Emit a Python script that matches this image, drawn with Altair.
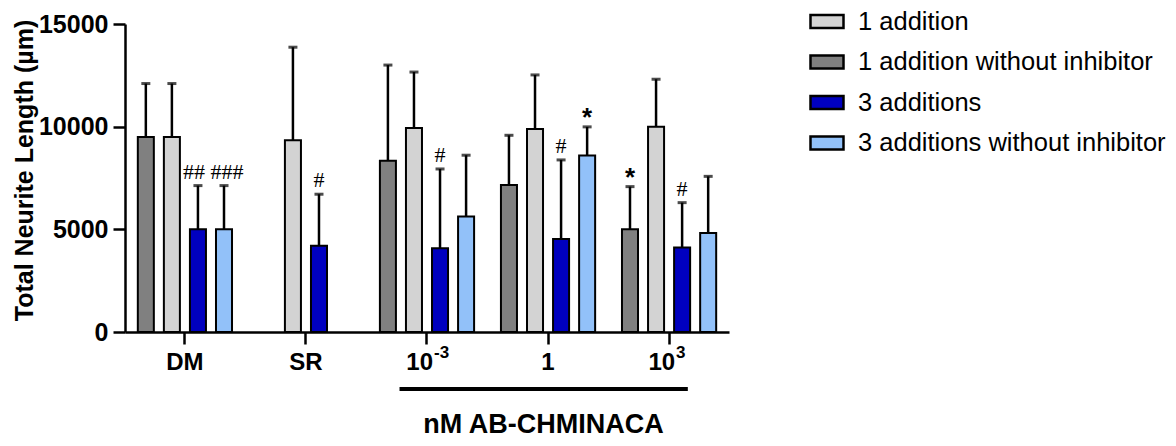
import altair as alt
import pandas as pd

groups = ["DM", "SR", "10^-3", "1", "10^3"]
legend_order = ["1 addition", "1 addition without inhibitor", "3 additions", "3 additions without inhibitor"]
bar_order = ["1 addition without inhibitor", "1 addition", "3 additions", "3 additions without inhibitor"]
fill_colors = ["#d3d3d3", "#808080", "#0000bf", "#92c1f9"]

# means and SD (None = no bar)
mean_1add = [9500, 9340, 9940, 9890, 9990]
sd_1add = [2600, 4530, 2720, 2630, 2320]
note_1add = ["", "", "", "", ""]

mean_1add_noinh = [9500, None, 8340, 7160, 5000]
sd_1add_noinh = [2600, None, 4660, 2420, 2080]
note_1add_noinh = ["", "", "", "", "*"]

mean_3add = [5000, 4200, 4080, 4530, 4120]
sd_3add = [2130, 2510, 3860, 3850, 2180]
note_3add = ["##", "#", "#", "#", "#"]

mean_3add_noinh = [5000, None, 5620, 8590, 4820]
sd_3add_noinh = [2130, None, 2990, 1400, 2760]
note_3add_noinh = ["###", "", "", "*", ""]

label_base = ["DM", "SR", "10", "1", "10"]
label_exp = ["", "", "-3", "", "3"]

rows = []
for s, ms, sds, notes in [
    ("1 addition", mean_1add, sd_1add, note_1add),
    ("1 addition without inhibitor", mean_1add_noinh, sd_1add_noinh, note_1add_noinh),
    ("3 additions", mean_3add, sd_3add, note_3add),
    ("3 additions without inhibitor", mean_3add_noinh, sd_3add_noinh, note_3add_noinh),
]:
    for g, m, sd, n in zip(groups, ms, sds, notes):
        if m is None:
            continue
        rows.append({"group": g, "series": s, "mean": m, "top": m + sd, "note": n})
df = pd.DataFrame(rows)

lab = pd.DataFrame({"group": groups, "base": label_base, "exp": label_exp})
under = pd.DataFrame({"start": ["10^-3"], "end": ["10^3"]})

FONT = "Liberation Sans"
W, H = 604, 308

xscale = alt.Scale(domain=groups, paddingInner=0.14, paddingOuter=0.065)
xoscale = alt.Scale(domain=bar_order, paddingInner=0.385, paddingOuter=0.19)
yscale = alt.Scale(domain=[0, 15000], nice=False)

x_axis = alt.Axis(
    labels=False, title="nM AB-CHMINACA", titleFont=FONT, titleFontSize=27,
    titleFontWeight="bold", titleX=418, titleY=100, titleBaseline="alphabetic",
    titleAlign="center", titleColor="black",
    domainColor="black", domainWidth=2.5, tickColor="black", tickWidth=2.5,
    tickSize=12, grid=False,
)
y_axis = alt.Axis(
    values=[0, 5000, 10000, 15000], format="d", title="Total Neurite Length (µm)",
    titleFont=FONT, titleFontSize=25, titleFontWeight="bold", titleColor="black",
    titleX=-101, titleY=146, titleAngle=270, titleAlign="center", titleBaseline="middle",
    labelFont=FONT, labelFontSize=25, labelFontWeight="bold", labelColor="black",
    labelPadding=5, domainColor="black", domainWidth=2.5, tickColor="black",
    tickWidth=2.5, tickSize=12, grid=False,
)

base = alt.Chart(df)

bars = base.mark_bar(stroke="black", strokeWidth=2).encode(
    x=alt.X("group:N", scale=xscale, axis=x_axis),
    xOffset=alt.XOffset("series:N", scale=xoscale),
    y=alt.Y("mean:Q", scale=yscale, axis=y_axis),
    fill=alt.Fill(
        "series:N",
        scale=alt.Scale(domain=legend_order, range=fill_colors),
        legend=alt.Legend(
            title=None, orient="none", legendX=684, legendY=-20.5, padding=0,
            symbolType="M-1,-0.4H1V0.4H-1Z", symbolSize=1089,
            symbolStrokeColor="black", symbolStrokeWidth=2.5,
            labelFont=FONT, labelFontSize=25.5, labelColor="black",
            labelOffset=13, rowPadding=8.5, labelLimit=400,
        ),
    ),
)

err = base.mark_rule(color="black", strokeWidth=2.5).encode(
    x=alt.X("group:N", scale=xscale),
    xOffset=alt.XOffset("series:N", scale=xoscale),
    y=alt.Y("mean:Q", scale=yscale),
    y2="top:Q",
)

caps = base.mark_tick(color="black", orient="horizontal", size=9, thickness=3).encode(
    x=alt.X("group:N", scale=xscale),
    xOffset=alt.XOffset("series:N", scale=xoscale),
    y=alt.Y("top:Q", scale=yscale),
)


def hash_layer(cond, dx):
    return base.transform_filter(cond).mark_text(
        font="Liberation Serif", fontSize=22, color="black", baseline="alphabetic", dy=-7, dx=dx
    ).encode(
        x=alt.X("group:N", scale=xscale),
        xOffset=alt.XOffset("series:N", scale=xoscale),
        y=alt.Y("top:Q", scale=yscale),
        text="note:N",
    )


hash1 = hash_layer("datum.note == '#'", 0)
hash2 = hash_layer("datum.note == '##'", -4)
hash3 = hash_layer("datum.note == '###'", 3)

star_txt = base.transform_filter("datum.note == '*'").mark_text(
    font=FONT, fontSize=26, fontWeight="bold", color="black", baseline="alphabetic", dy=-1
).encode(
    x=alt.X("group:N", scale=xscale),
    xOffset=alt.XOffset("series:N", scale=xoscale),
    y=alt.Y("top:Q", scale=yscale),
    text="note:N",
)

lbase = alt.Chart(lab)
plain_lab = lbase.transform_filter("datum.exp == ''").mark_text(
    font=FONT, fontSize=24, fontWeight="bold", color="black", baseline="alphabetic", align="center"
).encode(x=alt.X("group:N", scale=xscale), y=alt.value(346), text="base:N")

ten_lab = lbase.transform_filter("datum.exp != ''").mark_text(
    font=FONT, fontSize=24, fontWeight="bold", color="black", baseline="alphabetic", align="right", dx=6
).encode(x=alt.X("group:N", scale=xscale), y=alt.value(346), text="base:N")

exp_lab = lbase.transform_filter("datum.exp != ''").mark_text(
    font=FONT, fontSize=17, fontWeight="bold", color="black", baseline="alphabetic", align="left", dx=7
).encode(x=alt.X("group:N", scale=xscale), y=alt.value(334), text="exp:N")

underline = alt.Chart(under).mark_rule(color="black", strokeWidth=4).encode(
    x=alt.X("start:N", scale=xscale, bandPosition=0.236),
    x2=alt.X2("end:N", bandPosition=0.68),
    y=alt.value(365),
)

chart = alt.layer(
    bars, err, caps, hash1, hash2, hash3, star_txt, plain_lab, ten_lab, exp_lab, underline
).properties(
    width=W, height=H,
    autosize=alt.AutoSizeParams(type="none"),
    padding={"left": 117, "top": 16, "right": 439, "bottom": 106},
).configure_view(stroke=None)

chart.save("out.html", embed_options={"renderer": "svg", "actions": False})
